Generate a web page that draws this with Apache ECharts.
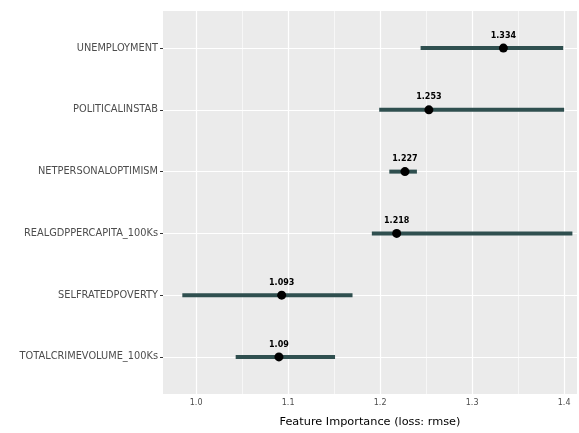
<!DOCTYPE html>
<html>
<head>
<meta charset="utf-8" />
<title>Feature Importance</title>
<script type="text/javascript" src="https://cdn.jsdelivr.net/npm/echarts@6/dist/echarts.min.js"></script>
<style>
  html, body { margin: 0; padding: 0; background: #fff; }
</style>
</head>
<body>
<div id="main" style="width: 579px;height:433px;"></div>
<script type="text/javascript">
// features, top to bottom
var features = ['UNEMPLOYMENT', 'POLITICALINSTAB', 'NETPERSONALOPTIMISM',
                'REALGDPPERCAPITA_100Ks', 'SELFRATEDPOVERTY', 'TOTALCRIMEVOLUME_100Ks'];
var importance = [1.334, 1.253, 1.227, 1.218, 1.093, 1.09];
var valueLabels = ['1.334', '1.253', '1.227', '1.218', '1.093', '1.09'];
var lower = [1.244, 1.199, 1.210, 1.191, 0.985, 1.043];
var upper = [1.399, 1.400, 1.240, 1.409, 1.170, 1.151];

var xTicks = [1.0, 1.1, 1.2, 1.3, 1.4];
var xMinor = [1.05, 1.15, 1.25, 1.35];
var rows = [0, 1, 2, 3, 4, 5];

var myChart = echarts.init(document.getElementById('main'));

var barData = [];
var pointData = [];
for (var i = 0; i < features.length; i++) {
  barData.push([i, lower[i], upper[i]]);
  pointData.push([importance[i], i]);
}

var gridLines = [];
xMinor.forEach(function (v) {
  gridLines.push({ xAxis: v, lineStyle: { color: '#fff', width: 0.6, type: 'solid' } });
});
xTicks.forEach(function (v) {
  gridLines.push({ xAxis: v, lineStyle: { color: '#fff', width: 1.2, type: 'solid' } });
});
rows.forEach(function (v) {
  gridLines.push({ yAxis: v, lineStyle: { color: '#fff', width: 1.2, type: 'solid' } });
});

var option = {
  animation: false,
  textStyle: { fontFamily: 'DejaVu Sans' },
  grid: {
    left: 163, right: 2, top: 11, bottom: 35,
    show: true, backgroundColor: '#EBEBEB', borderWidth: 0
  },
  xAxis: {
    type: 'value',
    min: 0.964,
    max: 1.414,
    name: 'Feature Importance (loss: rmse)',
    nameLocation: 'middle',
    nameGap: 23,
    nameTextStyle: { color: '#000', fontSize: 11.3 },
    axisLine: { show: false },
    axisTick: { show: true, length: 3, customValues: xTicks, lineStyle: { color: '#333' } },
    axisLabel: {
      customValues: xTicks, color: '#4D4D4D', fontSize: 8, margin: 5,
      formatter: function (v) { return v.toFixed(1); }
    },
    splitLine: { show: false }
  },
  yAxis: {
    type: 'value',
    min: -0.6,
    max: 5.6,
    inverse: true,
    axisLine: { show: false },
    axisTick: { show: true, length: 3, customValues: rows, lineStyle: { color: '#333' } },
    axisLabel: {
      customValues: rows, color: '#4D4D4D', fontSize: 9.8, margin: 5,
      formatter: function (v) { return features[Math.round(v)]; }
    },
    splitLine: { show: false }
  },
  series: [
    {
      // background grid lines
      type: 'scatter',
      data: [],
      z: 1,
      silent: true,
      markLine: {
        z: 1,
        silent: true,
        symbol: 'none',
        label: { show: false },
        animation: false,
        data: gridLines
      }
    },
    {
      type: 'custom',
      z: 3,
      data: barData,
      encode: { x: [1, 2], y: 0 },
      renderItem: function (params, api) {
        var y = api.value(0);
        var p1 = api.coord([api.value(1), y]);
        var p2 = api.coord([api.value(2), y]);
        return {
          type: 'line',
          shape: { x1: p1[0], y1: p1[1], x2: p2[0], y2: p2[1] },
          style: { stroke: '#2F4F4F', lineWidth: 4 }
        };
      }
    },
    {
      type: 'scatter',
      z: 4,
      data: pointData,
      symbolSize: 9,
      itemStyle: { color: '#000', opacity: 1 },
      label: {
        show: true,
        position: 'top',
        distance: 4,
        fontSize: 8,
        fontWeight: 'bold',
        color: '#000',
        formatter: function (p) { return valueLabels[p.dataIndex]; }
      }
    }
  ]
};

myChart.setOption(option);
</script>
</body>
</html>
